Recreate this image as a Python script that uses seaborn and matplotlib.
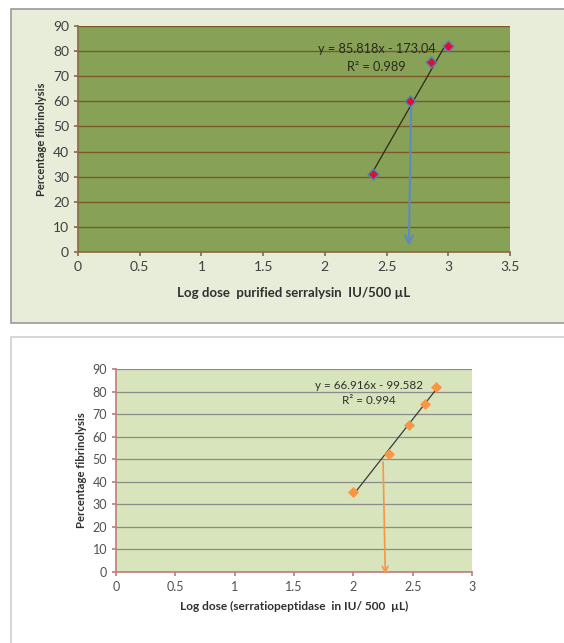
import numpy as np
import pandas as pd
import matplotlib
matplotlib.use("Agg")
import matplotlib.pyplot as plt
import seaborn as sns
from matplotlib.patches import Rectangle

# serralysin (top panel)
serr_x = [2.39, 2.69, 2.86, 3.0]
serr_y = [31, 60, 75.5, 82]
serr_fit = [85.818, -173.04]
serr_eq = "y = 85.818x - 173.04"
serr_r2 = "R² = 0.989"
serr_arrow = [2.7, 60, 2.68, 1.5]

# serratiopeptidase (bottom panel)
sp_x = [2.0, 2.3, 2.47, 2.6, 2.7]
sp_y = [35.5, 52.5, 65, 74.5, 82]
sp_fit = [66.916, -99.582]
sp_eq = "y = 66.916x - 99.582"
sp_r2 = "R² = 0.994"
sp_arrow = [2.25, 50, 2.27, -2]

sns.set_theme(style="white")
plt.rcParams['font.family'] = ['Lato', 'DejaVu Sans']

W, H = 564, 643
fig = plt.figure(figsize=(W / 100, H / 100), dpi=100)

# outer panel boxes
fig.patches.append(Rectangle((11 / W, 1 - 323 / H), 560 / W, 314 / H, transform=fig.transFigure,
                             facecolor="#e7edd8", edgecolor="#9a9a9a", lw=1.2, zorder=-1))
fig.patches.append(Rectangle((11 / W, 1 - 650 / H), 560 / W, 313 / H, transform=fig.transFigure,
                             facecolor="white", edgecolor="#d0d0d0", lw=1.2, zorder=-1))

# ---- top panel
ax1 = fig.add_axes([78 / W, 1 - 252 / H, 432 / W, 226 / H])
ax1.set_facecolor("#87a157")
df1 = pd.DataFrame({"x": serr_x, "y": serr_y})
xs = np.array([serr_x[0], serr_x[-1] - 0.02])
ax1.plot(xs, serr_fit[0] * xs + serr_fit[1], color="#2b2b1a", lw=0.9, zorder=3)
ax1.annotate("", xy=(serr_arrow[2], serr_arrow[3]), xytext=(serr_arrow[0], serr_arrow[1]),
             arrowprops=dict(arrowstyle="->", color="#5b8ac4", lw=1.5, mutation_scale=14), zorder=3)
sns.scatterplot(data=df1, x="x", y="y", marker="D", s=30, color="#e0102a",
                edgecolor="#4f81bd", linewidth=1, ax=ax1, zorder=4)
ax1.set_xlim(0, 3.5)
ax1.set_ylim(0, 90)
ax1.set_xticks(np.arange(0, 3.6, 0.5))
ax1.set_xticklabels(["0", "0.5", "1", "1.5", "2", "2.5", "3", "3.5"])
ax1.set_yticks(np.arange(0, 91, 10))
ax1.yaxis.grid(True, color="#7a5a2a", lw=1.0)
ax1.set_axisbelow(True)
for s in ["top", "right"]:
    ax1.spines[s].set_visible(False)
for s in ["left", "bottom"]:
    ax1.spines[s].set_color("#8b6b4a")
ax1.tick_params(axis="both", labelsize=10, colors="#404040", length=3, direction="out",
                bottom=True, left=True)
ax1.tick_params(axis="both", color="#8b6b4a")
ax1.set_xlabel("Log dose  purified serralysin  IU/500 µL", fontsize=9.5, fontweight="bold",
               color="#303030", labelpad=10)
ax1.set_ylabel("Percentage fibrinolysis", fontsize=8, fontweight="bold", color="#303030", labelpad=4)
ax1.text(2.42, 81, serr_eq, fontsize=9.2, color="#2b2b1a", ha="center", va="center", zorder=5)
ax1.text(2.42, 73.7, serr_r2, fontsize=9.2, color="#2b2b1a", ha="center", va="center", zorder=5)

# ---- bottom panel
ax2 = fig.add_axes([116 / W, 1 - 572 / H, 356 / W, 203 / H])
ax2.set_facecolor("#d8e4bc")
df2 = pd.DataFrame({"x": sp_x, "y": sp_y})
xs = np.array([sp_x[0], sp_x[-1]])
ax2.plot(xs, sp_fit[0] * xs + sp_fit[1], color="#3a3a3a", lw=0.9, zorder=3)
ax2.annotate("", xy=(sp_arrow[2], sp_arrow[3]), xytext=(sp_arrow[0], sp_arrow[1]),
             arrowprops=dict(arrowstyle="->", color="#f79646", lw=1.2, mutation_scale=10),
             annotation_clip=False, zorder=3)
sns.scatterplot(data=df2, x="x", y="y", marker="D", s=26, color="#f79646",
                edgecolor="#f79646", linewidth=0.5, ax=ax2, zorder=4)
ax2.set_xlim(0, 3)
ax2.set_ylim(0, 90)
ax2.set_xticks(np.arange(0, 3.1, 0.5))
ax2.set_xticklabels(["0", "0.5", "1", "1.5", "2", "2.5", "3"])
ax2.set_yticks(np.arange(0, 91, 10))
ax2.yaxis.grid(True, color="#8c8c8c", lw=0.9)
ax2.set_axisbelow(True)
for s in ["top", "right"]:
    ax2.spines[s].set_visible(False)
for s in ["left", "bottom"]:
    ax2.spines[s].set_color("#c08080")
ax2.tick_params(axis="both", labelsize=9, colors="#505050", length=3, direction="out",
                bottom=True, left=True)
ax2.tick_params(axis="both", color="#c08080")
ax2.set_xlabel("Log dose (serratiopeptidase  in IU/ 500  µL)", fontsize=8.6, fontweight="bold",
               color="#303030", labelpad=6)
ax2.set_ylabel("Percentage fibrinolysis", fontsize=8.2, fontweight="bold", color="#303030", labelpad=4)
ax2.text(2.13, 82.6, sp_eq, fontsize=8.4, color="#303030", ha="center", va="center", zorder=5)
ax2.text(2.13, 75.9, sp_r2, fontsize=8.4, color="#303030", ha="center", va="center", zorder=5)

fig.savefig("out.png", dpi=100)
